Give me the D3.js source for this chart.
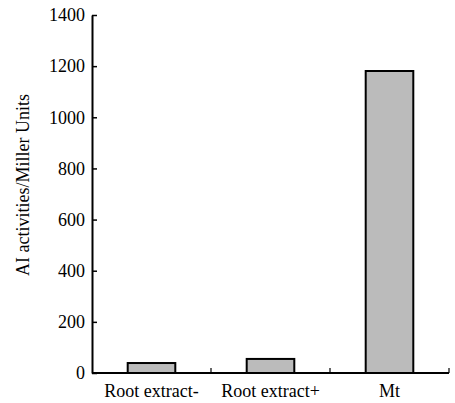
<!DOCTYPE html>
<html>
<head>
<meta charset="utf-8">
<script src="https://cdn.jsdelivr.net/npm/d3@7/dist/d3.min.js"></script>
<style>
  body { margin: 0; background: #fff; }
  svg text { font-family: "Liberation Serif", "Times New Roman", serif; fill: #000; }
</style>
</head>
<body>
<div id="chart"></div>
<script>
// --- data ---
const categories = ["Root extract-", "Root extract+", "Mt"];
const values = [39, 55, 1181];
const yTicks = [0, 200, 400, 600, 800, 1000, 1200, 1400];

const width = 455, height = 403;
const margin = { top: 15, right: 6, bottom: 30, left: 92 };

const svg = d3.select("#chart").append("svg")
  .attr("width", width)
  .attr("height", height);

const x = d3.scaleBand()
  .domain(categories)
  .range([margin.left, width - margin.right])
  .paddingInner(0.6)
  .paddingOuter(0.3);

// full-width bands, used for category ticks and labels
const xEdges = d3.scaleBand()
  .domain(categories)
  .range([margin.left, width - margin.right]);

const y = d3.scaleLinear()
  .domain([0, 1400])
  .range([height - margin.bottom, margin.top]);

// bars
svg.append("g").selectAll("rect")
  .data(values)
  .join("rect")
  .attr("x", (d, i) => x(categories[i]))
  .attr("y", d => y(d))
  .attr("width", x.bandwidth())
  .attr("height", d => y(0) - y(d))
  .attr("fill", "#bbbbbb")
  .attr("stroke", "#000")
  .attr("stroke-width", 2);

// y axis
const yAxis = svg.append("g")
  .attr("transform", `translate(${margin.left},0)`)
  .call(d3.axisLeft(y).tickValues(yTicks).tickFormat(d3.format("d"))
    .tickSize(-5).tickPadding(7).tickSizeOuter(0));
yAxis.attr("font-family", null);
yAxis.select(".domain").attr("stroke-width", 2);
yAxis.selectAll(".tick line").attr("stroke-width", 1.5);
yAxis.selectAll(".tick text")
  .style("font-size", "18px")
  .style("font-family", "'Liberation Serif', serif");

// x axis
const xAxisG = svg.append("g")
  .attr("transform", `translate(0,${y(0)})`);
xAxisG.append("line")
  .attr("x1", margin.left).attr("x2", width - margin.right)
  .attr("stroke", "#000").attr("stroke-width", 2);
const edges = categories.map(c => xEdges(c) + xEdges.bandwidth());
xAxisG.selectAll(".edge")
  .data(edges)
  .join("line")
  .attr("class", "edge")
  .attr("x1", d => d).attr("x2", d => d)
  .attr("y1", 0).attr("y2", -5)
  .attr("stroke", "#000").attr("stroke-width", 1.2);
xAxisG.selectAll(".cat")
  .data(categories)
  .join("text")
  .attr("class", "cat")
  .attr("x", d => xEdges(d) + xEdges.bandwidth() / 2)
  .attr("y", 24)
  .attr("text-anchor", "middle")
  .style("font-size", "18px")
  .text(d => d);

// y title
svg.append("text")
  .attr("transform", `translate(29,185) rotate(-90)`)
  .attr("text-anchor", "middle")
  .style("font-size", "18px")
  .text("AI activities/Miller Units");
</script>
</body>
</html>
